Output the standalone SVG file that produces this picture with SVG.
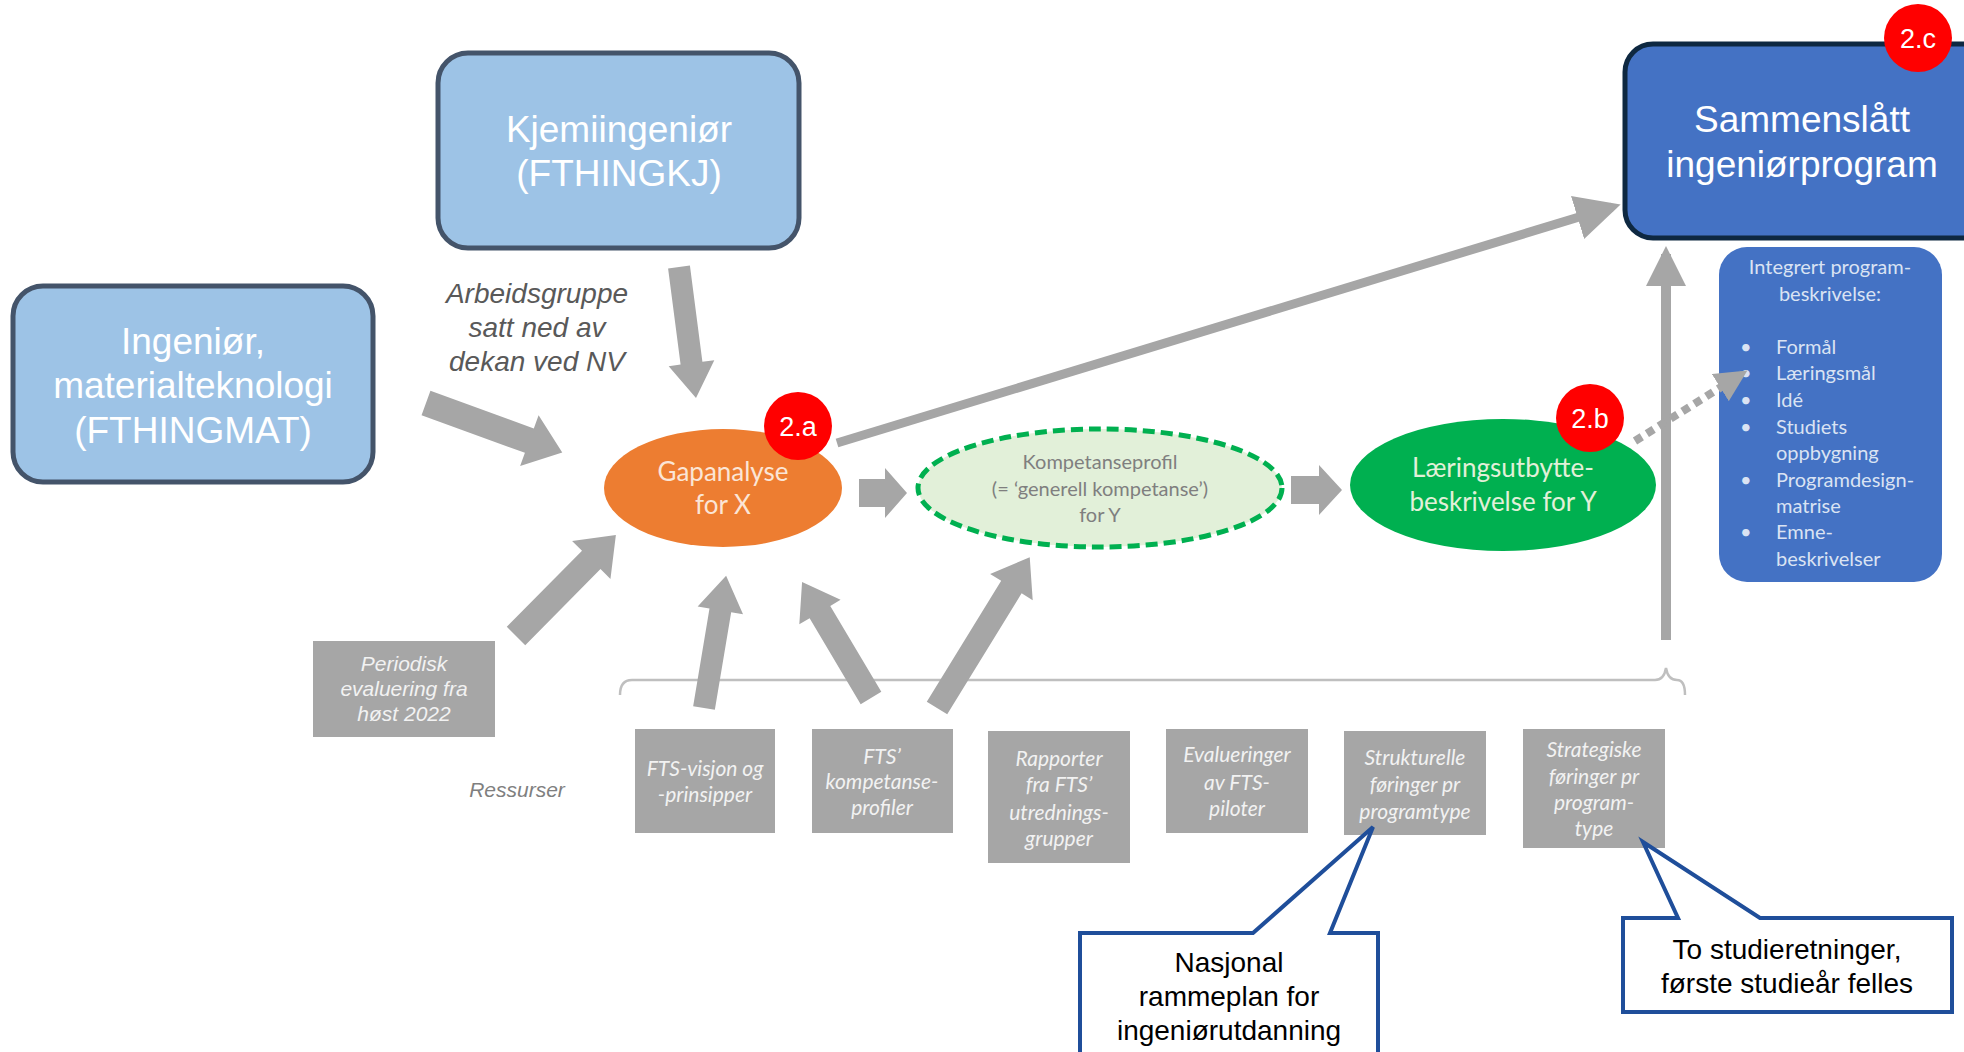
<svg xmlns="http://www.w3.org/2000/svg" width="1964" height="1052" viewBox="0 0 1964 1052">
<defs>
<style>
.sans{font-family:"Liberation Sans",Arial,sans-serif}
.cal{font-family:Lato,"Open Sans",sans-serif}
.box{fill:#9DC3E6;stroke:#44546A;stroke-width:5}
.big{fill:#fff;font-size:37px;text-anchor:middle}
.badge{fill:#FF0000}
.badget{fill:#fff;font-size:27px;text-anchor:middle}
.res{fill:#A6A6A6}
.rest{fill:#F2F2F2;font-size:21px;font-style:italic;text-anchor:middle}
.arr{fill:#A6A6A6}
.callout{fill:#fff;stroke:#1F4E9A;stroke-width:4;stroke-linejoin:miter}
.ct{fill:#000;font-size:28px;text-anchor:middle}
.intt{fill:#DAE3F3;font-size:20px}
</style>
<marker id="ah" viewBox="0 0 10 10" refX="8" refY="5" markerWidth="5" markerHeight="5" orient="auto" markerUnits="strokeWidth">
<path d="M0,0 L10,5 L0,10 Z" fill="#A6A6A6"/>
</marker>
<marker id="ahv" viewBox="0 0 10 10" refX="8" refY="5" markerWidth="4" markerHeight="4" orient="auto" markerUnits="strokeWidth">
<path d="M0,0 L10,5 L0,10 Z" fill="#A6A6A6"/>
</marker>
<marker id="ahd" viewBox="0 0 10 10" refX="8" refY="5" markerWidth="4" markerHeight="4" orient="auto" markerUnits="strokeWidth">
<path d="M0,0 L10,5 L0,10 Z" fill="#A6A6A6"/>
</marker>
</defs>
<rect width="1964" height="1052" fill="#fff"/>

<g id="kjemi">
<rect class="box" x="438" y="53" width="361" height="195" rx="30"/>
<text class="sans big" x="619" y="142">Kjemiingeniør</text>
<text class="sans big" x="619" y="186">(FTHINGKJ)</text>
</g>

<g id="ingenior">
<rect class="box" x="13" y="286" width="360" height="196" rx="30"/>
<text class="sans big" x="193" y="354">Ingeniør,</text>
<text class="sans big" x="193" y="398">materialteknologi</text>
<text class="sans big" x="193" y="443">(FTHINGMAT)</text>
</g>

<g id="arbeidsgruppe">
<text class="sans" x="537" y="303" font-size="28" font-style="italic" fill="#595959" text-anchor="middle">Arbeidsgruppe</text>
<text class="sans" x="537" y="337" font-size="28" font-style="italic" fill="#595959" text-anchor="middle">satt ned av</text>
<text class="sans" x="537" y="371" font-size="28" font-style="italic" fill="#595959" text-anchor="middle">dekan ved NV</text>
</g>

<g id="gapanalyse">
<ellipse cx="723" cy="488" rx="119" ry="59" fill="#ED7D31"/>
<text class="cal" x="723" y="481" font-size="26" fill="#FBE5D6" text-anchor="middle">Gapanalyse</text>
<text class="cal" x="723" y="514" font-size="26" fill="#FBE5D6" text-anchor="middle">for X</text>
</g>

<g id="kompetanseprofil">
<ellipse cx="1100" cy="488" rx="182" ry="59" fill="#E2F0D9" stroke="#00B050" stroke-width="5" stroke-dasharray="12 6"/>
<text class="cal" x="1100" y="469" font-size="20" fill="#7F7F7F" text-anchor="middle">Kompetanseprofil</text>
<text class="cal" x="1100" y="496" font-size="20" fill="#7F7F7F" text-anchor="middle">(= ‘generell kompetanse’)</text>
<text class="cal" x="1100" y="522" font-size="20" fill="#7F7F7F" text-anchor="middle">for Y</text>
</g>

<g id="laeringsutbytte">
<ellipse cx="1503" cy="485" rx="153" ry="66" fill="#00B050"/>
<text class="cal" x="1503" y="477" font-size="26" fill="#E2F0D9" text-anchor="middle">Læringsutbytte-</text>
<text class="cal" x="1503" y="511" font-size="26" fill="#E2F0D9" text-anchor="middle">beskrivelse for Y</text>
</g>

<g id="sammenslatt">
<rect x="1625" y="44" width="420" height="194" rx="28" fill="#4472C4" stroke="#0E2841" stroke-width="5"/>
<text class="sans big" x="1802" y="132">Sammenslått</text>
<text class="sans big" x="1802" y="177">ingeniørprogram</text>
</g>

<g id="integrert">
<rect x="1719" y="247" width="223" height="335" rx="28" fill="#4472C4"/>
<text class="cal intt" x="1830" y="274" text-anchor="middle">Integrert program-</text>
<text class="cal intt" x="1830" y="301" text-anchor="middle">beskrivelse:</text>
<g class="cal intt">
<text x="1740" y="354">•</text><text x="1776" y="354">Formål</text>
<text x="1740" y="380">•</text><text x="1776" y="380">Læringsmål</text>
<text x="1740" y="407">•</text><text x="1776" y="407">Idé</text>
<text x="1740" y="434">•</text><text x="1776" y="434">Studiets</text>
<text x="1776" y="460">oppbygning</text>
<text x="1740" y="487">•</text><text x="1776" y="487">Programdesign-</text>
<text x="1776" y="513">matrise</text>
<text x="1740" y="539">•</text><text x="1776" y="539">Emne-</text>
<text x="1776" y="566">beskrivelser</text>
</g>
</g>

<g id="periodisk">
<rect class="res" x="313" y="641" width="182" height="96"/>
<text class="sans" x="404" y="671" font-size="21" font-style="italic" fill="#F2F2F2" text-anchor="middle">Periodisk</text>
<text class="sans" x="404" y="696" font-size="21" font-style="italic" fill="#F2F2F2" text-anchor="middle">evaluering fra</text>
<text class="sans" x="404" y="721" font-size="21" font-style="italic" fill="#F2F2F2" text-anchor="middle">høst 2022</text>
</g>

<g id="ressurser">
<text class="sans" x="517" y="797" font-size="21" font-style="italic" fill="#7F7F7F" text-anchor="middle">Ressurser</text>
</g>

<g id="res-visjon">
<rect class="res" x="635" y="729" width="140" height="104"/>
<text class="cal rest" x="705" y="776">FTS-visjon og</text>
<text class="cal rest" x="705" y="802">-prinsipper</text>
</g>
<g id="res-kompetanse">
<rect class="res" x="812" y="729" width="141" height="104"/>
<text class="cal rest" x="882" y="764">FTS’</text>
<text class="cal rest" x="882" y="789">kompetanse-</text>
<text class="cal rest" x="882" y="815">profiler</text>
</g>
<g id="res-rapporter">
<rect class="res" x="988" y="731" width="142" height="132"/>
<text class="cal rest" x="1059" y="766">Rapporter</text>
<text class="cal rest" x="1059" y="792">fra FTS’</text>
<text class="cal rest" x="1059" y="820">utrednings-</text>
<text class="cal rest" x="1059" y="846">grupper</text>
</g>
<g id="res-evalueringer">
<rect class="res" x="1166" y="729" width="142" height="104"/>
<text class="cal rest" x="1237" y="762">Evalueringer</text>
<text class="cal rest" x="1237" y="790">av FTS-</text>
<text class="cal rest" x="1237" y="816">piloter</text>
</g>
<g id="res-strukturelle">
<rect class="res" x="1344" y="731" width="142" height="104"/>
<text class="cal rest" x="1415" y="765">Strukturelle</text>
<text class="cal rest" x="1415" y="792">føringer pr</text>
<text class="cal rest" x="1415" y="819">programtype</text>
</g>
<g id="res-strategiske">
<rect class="res" x="1523" y="729" width="142" height="119"/>
<text class="cal rest" x="1594" y="757">Strategiske</text>
<text class="cal rest" x="1594" y="784">føringer pr</text>
<text class="cal rest" x="1594" y="810">program-</text>
<text class="cal rest" x="1594" y="836">type</text>
</g>

<g id="connectors">
<path d="M620,695 Q620,680 632,680 L1655,680 Q1664,680 1666,668 Q1668,680 1677,680 Q1685,680 1685,695" fill="none" stroke="#BFBFBF" stroke-width="2.5"/>
<polygon class="arr" transform="translate(679,267) rotate(82.6)" points="0,-11 97,-11 97,-23 132,0 97,23 97,11 0,11"/>
<polygon class="arr" transform="translate(426,403) rotate(20)" points="0,-13 110,-13 110,-27 145,0 110,27 110,13 0,13"/>
<polygon class="arr" transform="translate(516,636) rotate(-45.3)" points="0,-13 107,-13 107,-27 142,0 107,27 107,13 0,13"/>
<polygon class="arr" transform="translate(704,708) rotate(-80.5)" points="0,-11 99,-11 99,-23 134,0 99,23 99,11 0,11"/>
<polygon class="arr" transform="translate(871,698) rotate(-120.7)" points="0,-12 100,-12 100,-24 135,0 100,24 100,12 0,12"/>
<polygon class="arr" transform="translate(937,708) rotate(-58.4)" points="0,-12 142,-12 142,-25 177,0 142,25 142,12 0,12"/>
<polygon class="arr" transform="translate(859,493)" points="0,-14 26,-14 26,-25 48,0 26,25 26,14 0,14"/>
<polygon class="arr" transform="translate(1291,490)" points="0,-14 28,-14 28,-25 51,0 28,25 28,14 0,14"/>
<line x1="837" y1="443" x2="1612" y2="207" stroke="#A6A6A6" stroke-width="9" marker-end="url(#ah)"/>
<line x1="1666" y1="640" x2="1666" y2="254" stroke="#A6A6A6" stroke-width="10" marker-end="url(#ahv)"/>
<line x1="1635" y1="441" x2="1742" y2="374" stroke="#A6A6A6" stroke-width="8" stroke-dasharray="8 6" marker-end="url(#ahd)"/>
</g>

<g id="badge-2a">
<circle class="badge" cx="798" cy="426" r="34"/>
<text class="sans badget" x="798" y="436">2.a</text>
</g>
<g id="badge-2b">
<circle class="badge" cx="1590" cy="418" r="34"/>
<text class="sans badget" x="1590" y="428">2.b</text>
</g>
<g id="badge-2c">
<circle class="badge" cx="1918" cy="38" r="34"/>
<text class="sans badget" x="1918" y="48">2.c</text>
</g>

<g id="callout-nasjonal">
<path class="callout" d="M1080,1070 L1080,933 L1253,933 L1373,827 L1330,933 L1378,933 L1378,1070"/>
<text class="sans ct" x="1229" y="972">Nasjonal</text>
<text class="sans ct" x="1229" y="1006">rammeplan for</text>
<text class="sans ct" x="1229" y="1040">ingeniørutdanning</text>
</g>
<g id="callout-studieretninger">
<path class="callout" d="M1623,918 L1678,918 L1643,842 L1760,918 L1952,918 L1952,1012 L1623,1012 Z"/>
<text class="sans ct" x="1787" y="959">To studieretninger,</text>
<text class="sans ct" x="1787" y="993">første studieår felles</text>
</g>
</svg>
